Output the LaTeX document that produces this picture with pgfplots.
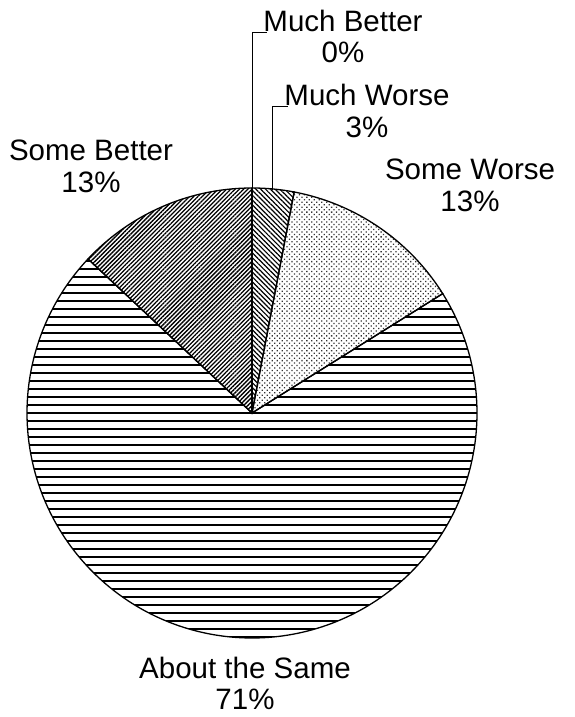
\documentclass[border=0pt]{standalone}
\usepackage{pgfplots}
\pgfplotsset{compat=1.18}
\usepackage{pgfplotstable}
\usetikzlibrary{patterns.meta}
\usepackage{fontspec}
\setmainfont{Liberation Sans}

% percentages, clockwise from 12 o'clock
\pgfplotstableread{
idx pct
0 0.0
1 3.0
2 13.1
3 70.9
4 13.0
}\piedata
\pgfplotstablegetelem{0}{pct}\of\piedata\let\pA\pgfplotsretval
\pgfplotstablegetelem{1}{pct}\of\piedata\let\pB\pgfplotsretval
\pgfplotstablegetelem{2}{pct}\of\piedata\let\pC\pgfplotsretval
\pgfplotstablegetelem{3}{pct}\of\piedata\let\pD\pgfplotsretval
\pgfplotstablegetelem{4}{pct}\of\piedata\let\pE\pgfplotsretval
\pgfmathsetmacro\aO{90}
\pgfmathsetmacro\aA{\aO-3.6*\pA}
\pgfmathsetmacro\aB{\aA-3.6*\pB}
\pgfmathsetmacro\aC{\aB-3.6*\pC}
\pgfmathsetmacro\aD{\aC-3.6*\pD}
\pgfmathsetmacro\aE{\aD-3.6*\pE}
\newcommand\lab{\fontsize{29.5}{31}\selectfont}

\begin{document}
\begin{tikzpicture}
\begin{axis}[
  width=574pt, height=717pt, scale only axis,
  xmin=0, xmax=574, ymin=0, ymax=717,
  hide axis, clip=false,
]
% Much Worse
\addplot[pattern={Lines[angle=-45,distance=3.4pt,line width=1.2pt]}, draw=black, line width=1.3pt,
  domain=\aB:\aA, samples=30, variable=\t]
  ({252+225*cos(\t)},{304+225*sin(\t)}) -- (axis cs:252,304) -- cycle;
% Some Worse
\addplot[pattern={Dots[distance=3.5pt,angle=45,radius=0.9pt]}, pattern color=black!80, draw=black, line width=1.3pt,
  domain=\aC:\aB, samples=60, variable=\t]
  ({252+225*cos(\t)},{304+225*sin(\t)}) -- (axis cs:252,304) -- cycle;
% About the Same
\addplot[pattern={Lines[angle=0,distance=8pt,line width=1.5pt]}, draw=black, line width=1.3pt,
  domain=\aD:\aC, samples=200, variable=\t]
  ({252+225*cos(\t)},{304+225*sin(\t)}) -- (axis cs:252,304) -- cycle;
% Some Better
\addplot[pattern={Lines[angle=45,distance=3pt,line width=1.3pt]}, draw=black, line width=1.3pt,
  domain=\aE:\aD, samples=60, variable=\t]
  ({252+225*cos(\t)},{304+225*sin(\t)}) -- (axis cs:252,304) -- cycle;
% Much Better (0%)
\addplot[draw=black, line width=1.3pt] coordinates {(252,304) (252,529)};
% leader lines
\addplot[draw=black, line width=1pt] coordinates {(252.7,529) (252.7,684) (266.7,684)};
\addplot[draw=black, line width=1pt] coordinates {(272.7,527) (272.7,610) (287.7,610)};
% labels
\node[anchor=base, font=\lab] at (axis cs:343,685) {Much Better};
\node[anchor=base, font=\lab] at (axis cs:343,654) {0\%};
\node[anchor=base, font=\lab] at (axis cs:367,611) {Much Worse};
\node[anchor=base, font=\lab] at (axis cs:367,579) {3\%};
\node[anchor=base, font=\lab] at (axis cs:470,537) {Some Worse};
\node[anchor=base, font=\lab] at (axis cs:470,505) {13\%};
\node[anchor=base, font=\lab] at (axis cs:91,556) {Some Better};
\node[anchor=base, font=\lab] at (axis cs:91,524) {13\%};
\node[anchor=base, font=\lab] at (axis cs:245,38) {About the Same};
\node[anchor=base, font=\lab] at (axis cs:245,7) {71\%};
\end{axis}
\path (current axis.south west) rectangle (current axis.north east);
\end{tikzpicture}
\end{document}
